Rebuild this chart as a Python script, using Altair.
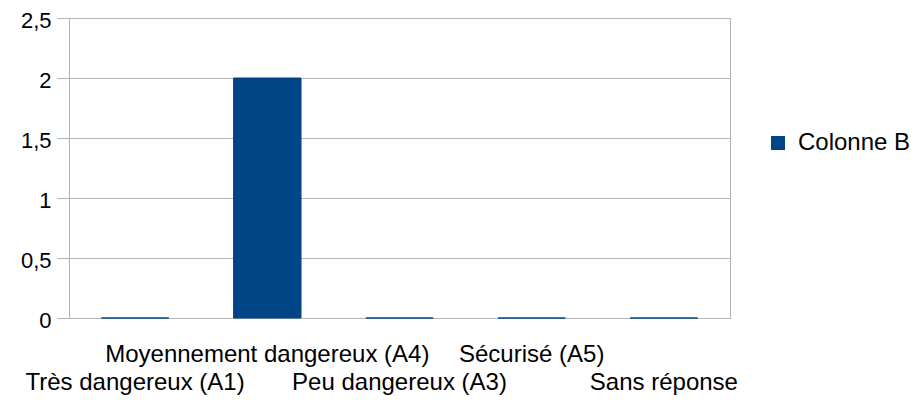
import altair as alt
import pandas as pd

categories = [
    "Très dangereux (A1)",
    "Moyennement dangereux (A4)",
    "Peu dangereux (A3)",
    "Sécurisé (A5)",
    "Sans réponse",
]
values = [0, 2, 0, 0, 0]
series_name = "Colonne B"
y_ticks = [0, 0.5, 1, 1.5, 2, 2.5]

df = pd.DataFrame({"cat": categories, "val": values})
df["series"] = series_name
df["row"] = [i % 2 for i in range(len(categories))]

FONT = "Liberation Sans"
FS = 24
YFS = 22
GRID = "#b3b3b3"
BLUE = "#004586"

x_enc = alt.X("cat:N", sort=categories,
              scale=alt.Scale(paddingInner=0, paddingOuter=0),
              axis=alt.Axis(labels=False, title=None, grid=False, domain=False,
                            ticks=True, tickBand="extent", tickSize=10,
                            tickColor=GRID, tickWidth=1))

bars = alt.Chart(df).mark_bar(width={"band": 0.51}, stroke=BLUE, strokeWidth=1).encode(
    x=x_enc,
    y=alt.Y("val:Q", scale=alt.Scale(domain=[0, 2.5], nice=False),
            axis=alt.Axis(values=y_ticks, title=None, grid=True, gridColor=GRID,
                          domainColor=GRID, tickColor=GRID, tickSize=12,
                          labelPadding=6, labelFont=FONT, labelFontSize=YFS,
                          labelColor="#000000", labelOffset=2,
                          labelExpr="replace(toString(datum.value), '.', ',')")),
    color=alt.Color("series:N",
                    scale=alt.Scale(domain=[series_name], range=[BLUE]),
                    legend=alt.Legend(title=None, orient="none", legendX=697, legendY=113,
                                      symbolType="square", symbolSize=196,
                                      symbolStrokeWidth=0, padding=0,
                                      labelFont=FONT, labelFontSize=FS,
                                      labelColor="#000000", labelOffset=8)),
)

upper = alt.Chart(df).transform_filter("datum.row == 1").mark_text(
    font=FONT, fontSize=FS, color="#000000", baseline="alphabetic", align="center"
).encode(x=alt.X("cat:N", sort=categories, axis=None), y=alt.value(344), text="cat:N")

lower = alt.Chart(df).transform_filter("datum.row == 0").mark_text(
    font=FONT, fontSize=FS, color="#000000", baseline="alphabetic", align="center"
).encode(x=alt.X("cat:N", sort=categories, axis=None), y=alt.value(372), text="cat:N")

chart = alt.layer(bars, upper, lower).properties(
    width=661, height=300,
    autosize=alt.AutoSizeParams(type="none"),
    padding={"left": 61, "top": 10, "right": 182, "bottom": 82},
    background="white",
).configure_view(stroke=GRID, strokeWidth=1)

chart.save("out.html", embed_options={"renderer": "svg", "actions": False})
